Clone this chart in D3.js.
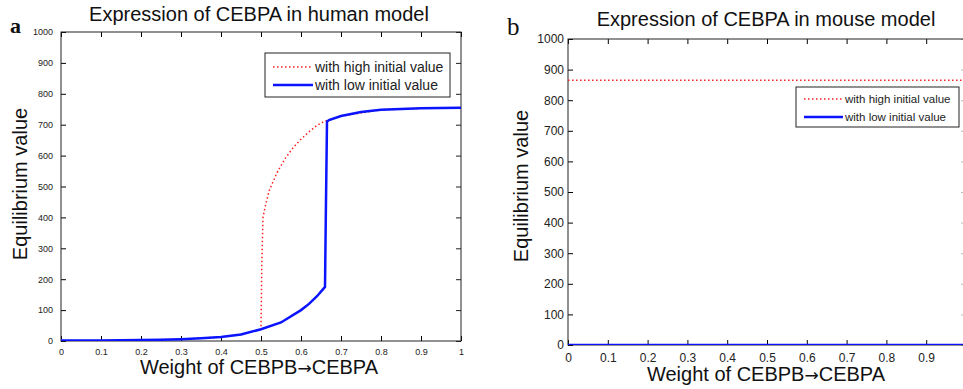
<!DOCTYPE html>
<html>
<head>
<meta charset="utf-8">
<script src="https://cdn.jsdelivr.net/npm/d3@7"></script>
<style>
  body { margin: 0; background: #fff; }
  svg { display: block; font-family: "Liberation Sans", Arial, sans-serif; }
</style>
</head>
<body>
<svg width="963" height="389"></svg>
<script>
const width = 963, height = 389;
const svg = d3.select("svg");

// Data
const xTicks = [0, 0.1, 0.2, 0.3, 0.4, 0.5, 0.6, 0.7, 0.8, 0.9, 1];
const yTicks = [0, 100, 200, 300, 400, 500, 600, 700, 800, 900, 1000];

// human model, low initial value (solid blue)
const humanLowX = [0, 0.1, 0.2, 0.25, 0.3, 0.35, 0.4, 0.45, 0.5, 0.55, 0.6, 0.62, 0.64, 0.66, 0.662, 0.665, 0.67, 0.7, 0.75, 0.8, 0.85, 0.9, 1];
const humanLowY = [2, 2, 3, 4, 6, 9, 13, 21, 38, 60, 100, 120, 145, 175, 400, 710, 715, 728, 741, 748, 751, 753, 755];
// human model, high initial value (dotted red)
const humanHighX = [0, 0.1, 0.2, 0.3, 0.4, 0.45, 0.5, 0.502, 0.505, 0.51, 0.52, 0.54, 0.56, 0.58, 0.6, 0.62, 0.64, 0.66, 0.7, 0.8, 0.9, 1];
const humanHighY = [2, 2, 3, 6, 13, 21, 38, 250, 400, 432, 485, 545, 590, 625, 653, 677, 698, 712, 728, 748, 753, 755];
// mouse model
const mouseHighX = [0, 1];
const mouseHighY = [865, 865];
const mouseLowX = [0, 1];
const mouseLowY = [0, 0];

const legendLabels = ["with high initial value", "with low initial value"];

function panel(cfg) {
  const x = d3.scaleLinear().domain([0, 1]).range([cfg.left, cfg.right]);
  const y = d3.scaleLinear().domain([0, 1000]).range([cfg.bottom, cfg.top]);
  const g = svg.append("g");
  const clipId = "clip-" + cfg.key;
  g.append("clipPath").attr("id", clipId).append("rect")
    .attr("x", cfg.left).attr("y", cfg.top)
    .attr("width", cfg.right - cfg.left).attr("height", cfg.bottom - cfg.top);

  // ticks: inward on all four sides
  const tl = 5;
  g.append("g").attr("transform", `translate(0,${cfg.bottom})`)
    .call(d3.axisBottom(x).tickValues(xTicks).tickSizeInner(-tl).tickSizeOuter(0).tickPadding(8)
      .tickFormat(d => cfg.hideLastX && d === 1 ? "" : d3.format("~g")(d)))
    .call(a => a.select(".domain").remove())
    .call(a => a.selectAll("text").attr("font-size", cfg.tickFont).attr("fill", "#222"));
  g.append("g").attr("transform", `translate(0,${cfg.top})`)
    .call(d3.axisTop(x).tickValues(xTicks).tickSizeInner(-tl).tickSizeOuter(0).tickFormat(""))
    .call(a => a.select(".domain").remove());
  g.append("g").attr("transform", `translate(${cfg.left},0)`)
    .call(d3.axisLeft(y).tickValues(yTicks).tickSizeInner(-tl).tickSizeOuter(0).tickPadding(cfg.yPad)
      .tickFormat(d3.format("d")))
    .call(a => a.select(".domain").remove())
    .call(a => a.selectAll("text").attr("font-size", cfg.tickFont).attr("fill", "#222"));
  g.append("g").attr("transform", `translate(${cfg.right},0)`)
    .call(d3.axisRight(y).tickValues(yTicks).tickSizeInner(-tl).tickSizeOuter(0).tickFormat(""))
    .call(a => a.select(".domain").remove())
    .call(a => a.selectAll("line").attr("stroke", cfg.rightTickColor));

  // box
  g.append("rect")
    .attr("x", cfg.left).attr("y", cfg.top)
    .attr("width", cfg.right - cfg.left).attr("height", cfg.bottom - cfg.top)
    .attr("fill", "none").attr("stroke", "#222").attr("stroke-width", 1);

  const line = d3.line().x(d => x(d[0])).y(d => y(d[1]));
  const lines = g.append("g").attr("clip-path", `url(#${clipId})`);
  lines.append("path")
    .datum(d3.zip(cfg.highX, cfg.highY))
    .attr("d", line).attr("fill", "none")
    .attr("stroke", "#ff2020").attr("stroke-width", 1.5).attr("stroke-dasharray", "1.5,2.5");
  lines.append("path")
    .datum(d3.zip(cfg.lowX, cfg.lowY))
    .attr("d", line).attr("fill", "none")
    .attr("stroke", "#0a14ff").attr("stroke-width", 2.5);

  // legend
  const L = cfg.legend;
  g.append("rect").attr("x", L.x).attr("y", L.y).attr("width", L.w).attr("height", L.h)
    .attr("fill", "#fff").attr("stroke", "#222");
  legendLabels.forEach((t, i) => {
    const ly = L.y + L.first + i * L.step;
    g.append("line").attr("x1", L.x + 8).attr("x2", L.x + 8 + L.len)
      .attr("y1", ly).attr("y2", ly)
      .attr("stroke", i === 0 ? "#ff2020" : "#0a14ff")
      .attr("stroke-width", i === 0 ? 1.5 : 2.5)
      .attr("stroke-dasharray", i === 0 ? "1.5,2.5" : null);
    g.append("text").attr("x", L.x + 10 + L.len).attr("y", ly + L.font * 0.36)
      .attr("font-size", L.font).attr("fill", "#222").text(t);
  });

  // titles and labels
  g.append("text").attr("x", cfg.titleX).attr("y", cfg.titleY).attr("text-anchor", "middle")
    .attr("font-size", 20).attr("fill", "#111").text(cfg.title);
  const xl = g.append("text").attr("x", cfg.xLabelX).attr("y", cfg.xLabelY).attr("text-anchor", "middle")
    .attr("font-size", 20).attr("fill", "#111");
  xl.append("tspan").text("Weight of CEBPB");
  xl.append("tspan").attr("font-family", "'DejaVu Sans', sans-serif").attr("font-size", 17).text("\u2192");
  xl.append("tspan").text("CEBPA");
  g.append("text").attr("transform", `translate(${cfg.yLabelX},${cfg.yLabelY}) rotate(-90)`)
    .attr("text-anchor", "middle").attr("font-size", 20).attr("fill", "#111").text("Equilibrium value");
  g.append("text").attr("x", cfg.letterX).attr("y", cfg.letterY)
    .attr("font-family", "'Liberation Serif', 'DejaVu Serif', serif")
    .attr("font-weight", cfg.letterWeight).attr("font-size", cfg.letterSize).attr("fill", "#111").text(cfg.letter);
}

panel({
  key: "a", left: 61, right: 461, top: 32, bottom: 341,
  tickFont: 9, yPad: 8, rightTickColor: "#222", hideLastX: false,
  highX: humanHighX, highY: humanHighY, lowX: humanLowX, lowY: humanLowY,
  legend: { x: 265, y: 53, w: 185, h: 44, first: 14, step: 18, len: 40, font: 14 },
  title: "Expression of CEBPA in human model", titleX: 259, titleY: 21,
  xLabelX: 259, xLabelY: 374, yLabelX: 27, yLabelY: 184,
  letter: "a", letterX: 10, letterY: 33, letterWeight: "bold", letterSize: 22
});

panel({
  key: "b", left: 568, right: 966, top: 39, bottom: 345,
  tickFont: 12, yPad: 4, rightTickColor: "#bbb", hideLastX: true,
  highX: mouseHighX, highY: mouseHighY, lowX: mouseLowX, lowY: mouseLowY,
  legend: { x: 796, y: 87, w: 163, h: 40, first: 12, step: 18, len: 39, font: 11.5 },
  title: "Expression of CEBPA in mouse model", titleX: 766, titleY: 26,
  xLabelX: 766, xLabelY: 381, yLabelX: 528, yLabelY: 186,
  letter: "b", letterX: 507, letterY: 35, letterWeight: "normal", letterSize: 25
});
</script>
</body>
</html>
